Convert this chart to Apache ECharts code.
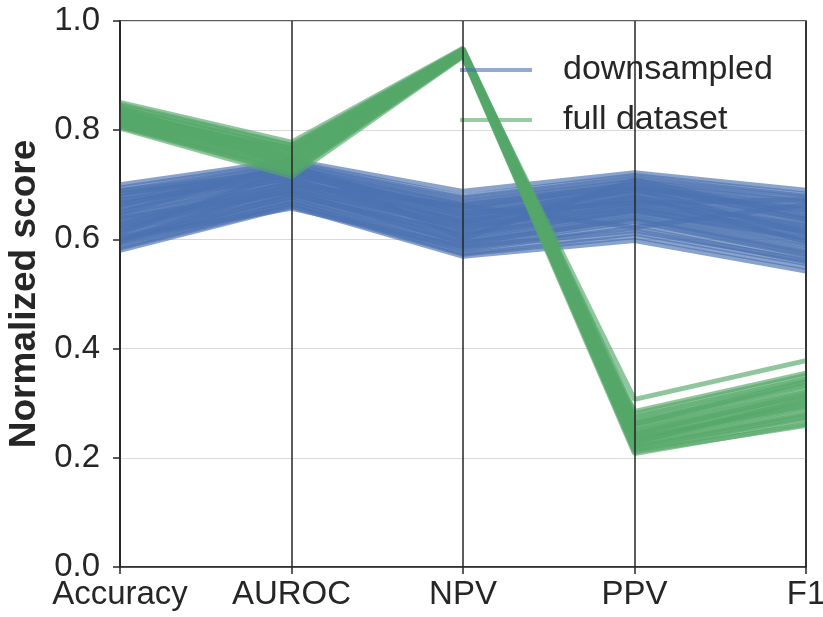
<!DOCTYPE html>
<html>
<head>
<meta charset="utf-8">
<script src="https://cdn.jsdelivr.net/npm/echarts@6/dist/echarts.min.js"></script>
<style>
  html, body { margin: 0; padding: 0; background: #fff; }
  #chart { width: 823px; height: 617px; }
</style>
</head>
<body>
<div id="chart"></div>
<script>
// metrics on the x axis
const categories = ["Accuracy", "AUROC", "NPV", "PPV", "F1"];

// one row per run: [Accuracy, AUROC, NPV, PPV, F1]
const downsampled = [
  [0.700, 0.745, 0.688, 0.722, 0.690],
  [0.694, 0.741, 0.679, 0.717, 0.683],
  [0.689, 0.737, 0.676, 0.713, 0.679],
  [0.683, 0.736, 0.670, 0.708, 0.676],
  [0.679, 0.731, 0.667, 0.706, 0.669],
  [0.677, 0.729, 0.663, 0.701, 0.668],
  [0.671, 0.727, 0.661, 0.698, 0.660],
  [0.667, 0.723, 0.655, 0.696, 0.658],
  [0.665, 0.720, 0.653, 0.691, 0.651],
  [0.659, 0.719, 0.647, 0.689, 0.648],
  [0.657, 0.714, 0.645, 0.684, 0.640],
  [0.651, 0.713, 0.639, 0.682, 0.638],
  [0.649, 0.708, 0.637, 0.677, 0.631],
  [0.643, 0.707, 0.631, 0.675, 0.628],
  [0.641, 0.702, 0.629, 0.670, 0.621],
  [0.635, 0.701, 0.623, 0.668, 0.618],
  [0.633, 0.696, 0.621, 0.663, 0.611],
  [0.627, 0.695, 0.615, 0.661, 0.608],
  [0.625, 0.690, 0.613, 0.656, 0.601],
  [0.619, 0.689, 0.607, 0.654, 0.598],
  [0.617, 0.684, 0.605, 0.649, 0.591],
  [0.611, 0.683, 0.599, 0.647, 0.588],
  [0.609, 0.678, 0.597, 0.641, 0.581],
  [0.603, 0.677, 0.591, 0.639, 0.578],
  [0.601, 0.672, 0.589, 0.633, 0.571],
  [0.595, 0.671, 0.583, 0.627, 0.567],
  [0.593, 0.667, 0.581, 0.621, 0.559],
  [0.587, 0.666, 0.575, 0.611, 0.556],
  [0.584, 0.662, 0.573, 0.605, 0.549],
  [0.580, 0.660, 0.569, 0.598, 0.542],
  [0.689, 0.724, 0.631, 0.691, 0.612],
  [0.598, 0.699, 0.661, 0.622, 0.664],
  [0.603, 0.657, 0.586, 0.616, 0.562],
  [0.648, 0.739, 0.602, 0.709, 0.642],
  [0.672, 0.711, 0.618, 0.680, 0.596],
  [0.612, 0.726, 0.649, 0.666, 0.673],
  [0.662, 0.733, 0.642, 0.693, 0.654],
  [0.628, 0.704, 0.634, 0.672, 0.624],
  [0.596, 0.681, 0.610, 0.652, 0.603],
  [0.639, 0.688, 0.594, 0.636, 0.574],
  [0.685, 0.717, 0.658, 0.700, 0.636],
  [0.621, 0.692, 0.626, 0.659, 0.615]
];

const fullDataset = [
  [0.851, 0.778, 0.950, 0.285, 0.355],
  [0.847, 0.773, 0.949, 0.281, 0.351],
  [0.844, 0.771, 0.948, 0.275, 0.344],
  [0.840, 0.766, 0.947, 0.272, 0.341],
  [0.838, 0.765, 0.946, 0.266, 0.333],
  [0.834, 0.760, 0.946, 0.263, 0.331],
  [0.833, 0.757, 0.945, 0.257, 0.323],
  [0.829, 0.755, 0.944, 0.255, 0.320],
  [0.828, 0.750, 0.943, 0.249, 0.313],
  [0.824, 0.749, 0.943, 0.247, 0.310],
  [0.823, 0.744, 0.942, 0.241, 0.303],
  [0.819, 0.742, 0.941, 0.239, 0.300],
  [0.818, 0.737, 0.940, 0.233, 0.293],
  [0.814, 0.736, 0.940, 0.231, 0.290],
  [0.813, 0.730, 0.939, 0.225, 0.283],
  [0.809, 0.729, 0.938, 0.223, 0.280],
  [0.808, 0.723, 0.937, 0.217, 0.273],
  [0.806, 0.721, 0.936, 0.214, 0.269],
  [0.804, 0.715, 0.935, 0.208, 0.262],
  [0.836, 0.751, 0.944, 0.307, 0.378],
  [0.829, 0.762, 0.947, 0.211, 0.259],
  [0.842, 0.733, 0.941, 0.262, 0.339],
  [0.816, 0.768, 0.946, 0.228, 0.306],
  [0.831, 0.746, 0.944, 0.244, 0.316],
  [0.821, 0.739, 0.942, 0.236, 0.296],
  [0.811, 0.726, 0.938, 0.220, 0.276]
];

const blue = "#4c72b0";
const green = "#55a868";
const font = "'Liberation Sans', Arial, sans-serif";

const chart = echarts.init(document.getElementById("chart"));

function lineSeries(name, color, row) {
  return {
    name: name,
    type: "line",
    data: row,
    symbol: "none",
    silent: true,
    color: color,
    lineStyle: { color: color, width: 5, opacity: 0.65 },
    z: 2,
  };
}

const series = [];
downsampled.forEach((row) => series.push(lineSeries("downsampled", blue, row)));
fullDataset.forEach((row) => series.push(lineSeries("full dataset", green, row)));

// vertical axis lines drawn over the bands, like axvline
series.push({
  type: "line",
  data: [],
  silent: true,
  z: 5,
  markLine: {
    silent: true,
    symbol: "none",
    animation: false,
    label: { show: false },
    lineStyle: { color: "#262626", width: 1.5, type: "solid" },
    data: categories.map((c) => ({ xAxis: c })),
  },
});

const option = {
  animation: false,
  backgroundColor: "#fff",
  grid: {
    left: 120,
    right: 17,
    top: 21,
    bottom: 50,
    containLabel: false,
    outerBoundsMode: "none",
    show: true,
    borderColor: "#262626",
    borderWidth: 1.5,
  },
  legend: {
    orient: "vertical",
    left: 455,
    top: 47,
    icon: "rect",
    itemWidth: 72,
    itemHeight: 4,
    itemGap: 14,
    selectedMode: false,
    data: [
      { name: "downsampled", itemStyle: { color: "rgba(76,114,176,0.6)" } },
      { name: "full dataset", itemStyle: { color: "rgba(85,168,104,0.6)" } },
    ],
    textStyle: {
      fontFamily: font,
      fontSize: 34,
      lineHeight: 36,
      color: "#262626",
      padding: [0, 0, 0, 26],
    },
  },
  xAxis: {
    type: "category",
    data: categories,
    boundaryGap: false,
    axisLine: { lineStyle: { color: "#262626", width: 1.5 } },
    axisTick: { show: true, length: 7, interval: 0, lineStyle: { color: "#262626", width: 1.5 } },
    axisLabel: {
      interval: 0,
      hideOverlap: false,
      fontFamily: font,
      fontSize: 33,
      color: "#262626",
      margin: 11,
    },
    splitLine: { show: false },
  },
  yAxis: {
    type: "value",
    min: 0,
    max: 1,
    interval: 0.2,
    name: "Normalized score",
    nameLocation: "middle",
    nameGap: 67,
    nameTextStyle: { fontFamily: font, fontSize: 37, fontWeight: "bold", color: "#262626" },
    axisLine: { show: true, lineStyle: { color: "#262626", width: 1.5 } },
    axisTick: { show: true, length: 7, lineStyle: { color: "#262626", width: 1.5 } },
    axisLabel: {
      fontFamily: font,
      fontSize: 33,
      color: "#262626",
      margin: 20,
      formatter: (v) => v.toFixed(1),
    },
    splitLine: { show: true, lineStyle: { color: "#d9d9d9", width: 1.2 } },
  },
  series: series,
};

chart.setOption(option);
</script>
</body>
</html>
